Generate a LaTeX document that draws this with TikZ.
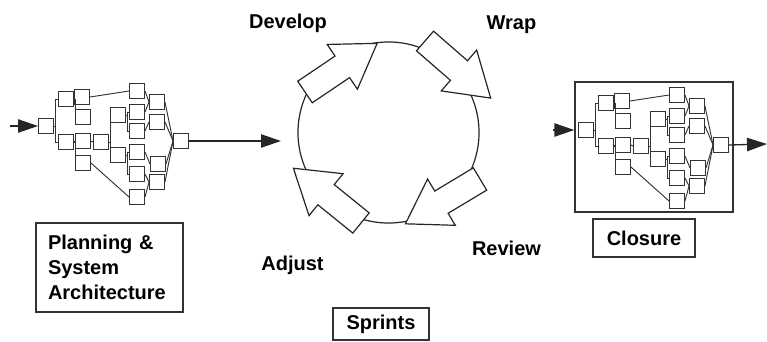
\documentclass[tikz,border=0pt]{standalone}
\usepackage{fontspec}
\setmainfont{Liberation Sans}
\usetikzlibrary{arrows.meta,calc}

\tikzset{
  cell/.style={draw=black!80, line width=0.7pt, minimum size=11.25pt, inner sep=0pt},
  link/.style={draw=black!80, line width=0.7pt},
  flow/.style={draw=black!85, line width=1pt, -{Triangle[length=15pt,width=10pt]}},
  phase/.style={font=\bfseries\fontsize{15}{18.75}\selectfont},
  tag/.style={draw=black!80, line width=1pt, phase, inner sep=0pt},
  loopbody/.style={draw=black!85, line width=0.9pt, fill=white, line join=miter},
  pics/procnet/.style={code={
    % boxes of the task network
    \foreach \n/\x/\y in {a/0/0, b1/20/-27, b2/20/16,
        c1/36/-29, c2/37/-9, c3/37/15, c4/37/37, d/55/16,
        e1/72/-11, e2/72/29,
        f1/91/-35, f2/91/-14, f3/91/5, f4/91/26, f5/91/48, f6/91/71,
        g1/111/-24, g2/111/-4, g3/112/38, g4/111/56, h/135/15}
      \node[cell] (-\n) at (\x,\y) {};
    % forks
    \foreach \s/\t in {a/b1, a/b2, b1/c2, b2/c4, d/e1, d/e2, e1/f2, e1/f3, e2/f4, e2/f5}
      \draw[link] (-\s.east) -- ++(1.5,0) |- (-\t.west);
    % straight links
    \foreach \s/\t in {b1/c1, b2/c3, c3/d, c1/f1, c4/f6, f1/g1, f2/g1, f3/g2,
        f4/g3, f5/g4, f6/g4, g1/h, g2/h, g3/h, g4/h}
      \draw[link] (-\s.east) -- (-\t.west);
  }},
  pics/blockarr/.style={code={
    \draw[loopbody] (0,-13) -- (45,-13) -- (45,-27) -- (87,0) -- (45,27)
      -- (45,13) -- (0,13) -- cycle;
  }}
}

\begin{document}
\begin{tikzpicture}[x=0.75pt, y=-0.75pt]
  \useasboundingbox (0,0) rectangle (767,342);

  % planning network
  \pic (L) at (46,126) {procnet};
  \coordinate (lin) at (10,126);
  \coordinate (lout) at (281,141);
  \draw[flow] (lin) -- (L-a.west);
  \draw[flow] (L-h.east) -- (lout);
  \node[tag, minimum width=110.25pt, minimum height=66.75pt, inner xsep=9pt,
        text width=92.25pt, align=left] (plan) at (109.5,267.5)
        {Planning \&\\System\\Architecture};

  % sprint cycle
  \draw[draw=black!85, line width=0.9pt] (388.5,132.5) circle[radius=67.9pt];
  \pic[rotate=34] at (305,92) {blockarr};
  \pic[rotate=-41] at (425,41) {blockarr};
  \pic[rotate=211] at (480,179) {blockarr};
  \pic[rotate=141] at (361,223) {blockarr};
  \node[phase] (develop) at (288,23) {Develop};
  \node[phase] (wrap) at (511.5,25) {Wrap};
  \node[phase] (review) at (506.5,248) {Review};
  \node[phase] (adjust) at (292.5,265) {Adjust};
  \node[tag, minimum width=72pt, minimum height=24pt] (sprints) at (381,324) {Sprints};

  % closure network
  \node[draw=black!80, line width=1pt, minimum width=118.5pt, minimum height=97.5pt,
        inner sep=0pt] (frame) at (654,147) {};
  \pic (R) at (586,130) {procnet};
  \coordinate (rin) at (553,130);
  \coordinate (rout) at (767,144);
  \draw[flow] (rin) -- (rin -| frame.west);
  \draw[flow] (R-h.east) -- (rout);
  \node[tag, minimum width=76.5pt, minimum height=28.5pt] (closure) at (644,238) {Closure};
\end{tikzpicture}
\end{document}
